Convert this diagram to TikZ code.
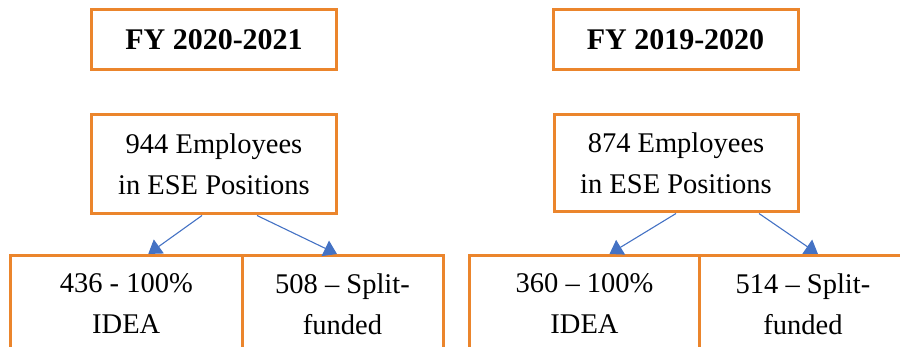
\documentclass[tikz,border=0pt]{standalone}
\usepackage{fontspec}
\setmainfont{Liberation Serif}
\usetikzlibrary{arrows.meta}
\definecolor{boxorange}{RGB}{235,133,44}
\definecolor{arrowblue}{RGB}{68,114,196}
\tikzset{
	orangebox/.style={draw=boxorange, line width=3pt, rectangle, inner sep=0pt, align=center, font=\fontsize{28.5}{41}\selectfont},
	yearbox/.style={orangebox, minimum width=245pt, minimum height=60pt, font=\fontsize{30}{41}\selectfont\bfseries},
	countbox/.style={orangebox, minimum width=245pt, minimum height=99pt},
	partbox/.style={orangebox, minimum height=97pt},
	splitarrow/.style={draw=arrowblue, line width=1.1pt, -{Triangle[width=17pt,length=13pt]}, color=arrowblue}
}

\begin{document}
\begin{tikzpicture}[x=1pt, y=-1pt]
				\useasboundingbox (0,0) rectangle (900,347);
				\clip (0,0) rectangle (900,347);
				% FY 2020-2021
				\node[yearbox] (YA)at(214, 39.5) {FY 2020-2021};
				\node[countbox] (EA)at(214, 164.5) {944 Employees\\in ESE Positions};
				\node[partbox, minimum width=231.5pt] (IA)at(126.25, 304) {436 - 100\%\\IDEA};
				\node[partbox, minimum width=201pt] (SA)at(342.5, 304) {508 -- Split-\\funded};
				% FY 2019-2020
				\node[yearbox] (YB)at(675.5, 39.5) {FY 2019-2020};
				\node[countbox, minimum width=244pt, minimum height=97pt] (EB)at(676, 163.5) {874 Employees\\in ESE Positions};
				\node[partbox, minimum width=230pt] (IB)at(584.5, 304) {360 -- 100\%\\IDEA};
				\node[partbox, minimum width=207pt] (SB)at(803, 304) {514 -- Split-\\funded};
				\draw[splitarrow] ([xshift=-12pt]EA.south) -- ([xshift=22pt]IA.north);
				\draw[splitarrow] ([xshift=43pt]EA.south) -- ([xshift=-5.5pt]SA.north);
				\draw[splitarrow] (EB.south) -- ([xshift=25pt]IB.north);
				\draw[splitarrow] ([xshift=83pt]EB.south) -- ([xshift=15pt]SB.north);
			\end{tikzpicture}
\end{document}
